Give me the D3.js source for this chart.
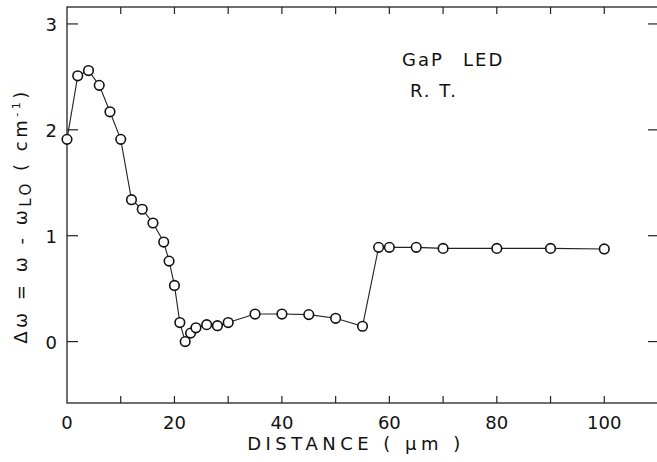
<!DOCTYPE html>
<html>
<head>
<meta charset="utf-8">
<script src="https://cdn.jsdelivr.net/npm/d3@7"></script>
<style>
  body { margin:0; background:#fff; }
  text { font-family:"DejaVu Sans", Arial, sans-serif; fill:#111; }
</style>
</head>
<body>
<svg id="mySVG" width="657" height="462"></svg>
<script>
// distance (um) vs shift (cm-1)
var distance=[0,2,4,6,8,10,12,14,16,18,19,20,21,22,23,24,26,28,30,35,40,45,50,55,58,60,65,70,80,90,100]
var shift=[1.91,2.51,2.56,2.42,2.17,1.91,1.34,1.25,1.12,0.94,0.76,0.53,0.18,0.0,0.08,0.13,0.16,0.15,0.18,0.26,0.26,0.255,0.22,0.145,0.89,0.89,0.89,0.88,0.88,0.88,0.875]
var xTickLabels=[0,20,40,60,80,100]
var xTicksAll=[10,20,30,40,50,60,70,80,90,100]
var yTickLabels=[0,1,2,3]

var svg=d3.select("#mySVG")
var plotL=67, plotR=658, plotT=7, plotB=403

var x=d3.scaleLinear().domain([0,110]).range([plotL,plotR])
var y=d3.scaleLinear().domain([-0.58,3.16]).range([plotB,plotT])

//---frame---
svg.append("rect")
.attr("x",plotL).attr("y",plotT)
.attr("width",plotR-plotL).attr("height",plotB-plotT)
.attr("fill","none").attr("stroke","#222").attr("stroke-width",1.3)

//---ticks, inward---
var tickLen=7
svg.append("g").selectAll("line").data(xTicksAll).join("line")
.attr("x1",d=>x(d)).attr("x2",d=>x(d))
.attr("y1",plotB).attr("y2",plotB-tickLen)
.attr("stroke","#222").attr("stroke-width",1.2)
svg.append("g").selectAll("line").data(xTicksAll).join("line")
.attr("x1",d=>x(d)).attr("x2",d=>x(d))
.attr("y1",plotT).attr("y2",plotT+tickLen)
.attr("stroke","#222").attr("stroke-width",1.2)
svg.append("g").selectAll("line").data(yTickLabels).join("line")
.attr("x1",plotL).attr("x2",plotL+11)
.attr("y1",d=>y(d)).attr("y2",d=>y(d))
.attr("stroke","#222").attr("stroke-width",1.2)
svg.append("g").selectAll("line").data(yTickLabels).join("line")
.attr("x1",x(110)).attr("x2",x(110)-10)
.attr("y1",d=>y(d)).attr("y2",d=>y(d))
.attr("stroke","#222").attr("stroke-width",1.2)

//---tick labels---
svg.append("g").selectAll("text").data(xTickLabels).join("text")
.attr("x",d=>x(d)).attr("y",429)
.attr("text-anchor","middle").attr("font-size",18)
.text(d=>d)
svg.append("g").selectAll("text").data(yTickLabels).join("text")
.attr("x",57).attr("y",d=>y(d)+7)
.attr("text-anchor","end").attr("font-size",18)
.text(d=>d)

//---axis titles---
svg.append("text")
.attr("x",356).attr("y",450)
.attr("text-anchor","middle").attr("font-size",18)
.attr("letter-spacing",4.5)
.text("DISTANCE ( \u03bcm )")

var yt=svg.append("text")
.attr("transform","translate(27,216) rotate(-90)")
.attr("text-anchor","middle").attr("font-size",18)
.attr("letter-spacing",3.5)
yt.append("tspan").text("\u0394\u03c9 = \u03c9 - \u03c9")
yt.append("tspan").attr("font-size",15).attr("dy",4).text("LO")
yt.append("tspan").attr("dy",-4).text(" ( cm")
yt.append("tspan").attr("font-size",11).attr("dy",-7).text("-1")
yt.append("tspan").attr("dy",7).text(")")

//---annotation---
svg.append("text").attr("x",402).attr("y",66)
.attr("font-size",18).attr("letter-spacing",2).text("GaP")
svg.append("text").attr("x",463).attr("y",66)
.attr("font-size",18).attr("letter-spacing",2).text("LED")
svg.append("text").attr("x",410).attr("y",97)
.attr("font-size",18).attr("letter-spacing",2).text("R. T.")

//---data line and markers---
var pts=distance.map((d,i)=>[d,shift[i]])
svg.append("path").datum(pts)
.attr("fill","none").attr("stroke","#222").attr("stroke-width",1.1)
.attr("d",d3.line().x(d=>x(d[0])).y(d=>y(d[1])))

svg.append("g").selectAll("circle").data(pts).join("circle")
.attr("cx",d=>x(d[0])).attr("cy",d=>y(d[1])).attr("r",4.8)
.attr("fill","#fff").attr("stroke","#111").attr("stroke-width",1.6)
</script>
</body>
</html>
